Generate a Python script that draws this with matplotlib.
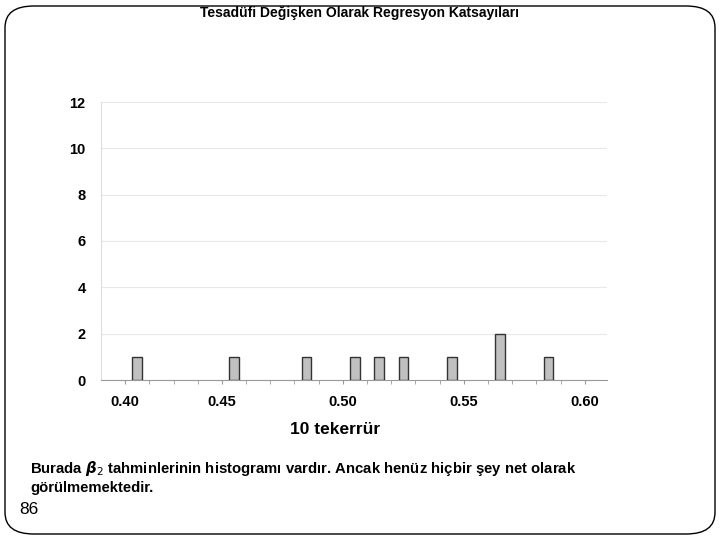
import matplotlib
matplotlib.use('Agg')
import matplotlib.pyplot as plt
from matplotlib.patches import FancyBboxPatch

# histogram of beta2 estimates (10 replications)
bin_values = [0.41, 0.45, 0.48, 0.50, 0.51, 0.52, 0.54, 0.56, 0.58]
counts = [1, 1, 1, 1, 1, 1, 1, 2, 1]
x_tick_labels = ['0.40', '0.45', '0.50', '0.55', '0.60']
x_tick_values = [0.405, 0.445, 0.495, 0.545, 0.595]
y_ticks = [0, 2, 4, 6, 8, 10, 12]

title = 'Tesadüfi Değişken Olarak Regresyon Katsayıları'
xlabel = '10 tekerrür'
note1 = r'Burada $\boldsymbol{\beta}_2$ tahminlerinin histogramı vardır. Ancak henüz hiçbir şey net olarak'
note2 = 'görülmemektedir.'
page = '86'

plt.rcParams['font.family'] = ['Liberation Sans', 'DejaVu Sans']

fig = plt.figure(figsize=(7.2, 5.4), dpi=100)

# slide frame
frame = FancyBboxPatch((5 / 720, 6 / 540), 710 / 720, 528 / 540,
                       boxstyle='round,pad=0,rounding_size=0.04',
                       transform=fig.transFigure, fill=False,
                       edgecolor='black', linewidth=1.0)
fig.patches.append(frame)

ax = fig.add_axes([101 / 720, 1 - 380 / 540, 506 / 720, 278 / 540])
ax.bar(bin_values, counts, width=0.004, color='#c0c0c0',
       edgecolor='#333333', linewidth=1.0, zorder=3)

ax.set_xlim(0.395, 0.6042)
ax.set_ylim(0, 12)
ax.set_yticks(y_ticks)
ax.set_yticklabels([str(v) for v in y_ticks], fontsize=10.5, fontweight='bold')
ax.set_xticks(x_tick_values)
ax.set_xticklabels(x_tick_labels, fontsize=10.5, fontweight='bold')
ax.set_xticks([0.405 + 0.01 * k for k in range(20)], minor=True)
ax.tick_params(axis='x', which='both', direction='out', length=3,
               color='#999999', pad=8)
ax.tick_params(axis='y', length=0, pad=11)
ax.grid(axis='y', color='#e8e8e8', linewidth=0.8, zorder=0)

for side in ['top', 'right']:
    ax.spines[side].set_visible(False)
ax.spines['left'].set_color('#dddddd')
ax.spines['bottom'].set_color('#999999')

fig.text(0.5, 1 - 13 / 540, title, ha='center', va='center',
         fontsize=10, fontweight='bold')
fig.text(335 / 720, 1 - 429 / 540, xlabel, ha='center', va='center',
         fontsize=12.5, fontweight='bold')
fig.text(30 / 720, 1 - 469 / 540, note1, ha='left', va='center',
         fontsize=10.7, fontweight='bold')
fig.text(30 / 720, 1 - 488 / 540, note2, ha='left', va='center',
         fontsize=10.7, fontweight='bold')
fig.text(19 / 720, 1 - 510 / 540, page, ha='left', va='center', fontsize=12.5)

fig.savefig('out.png', dpi=100)
